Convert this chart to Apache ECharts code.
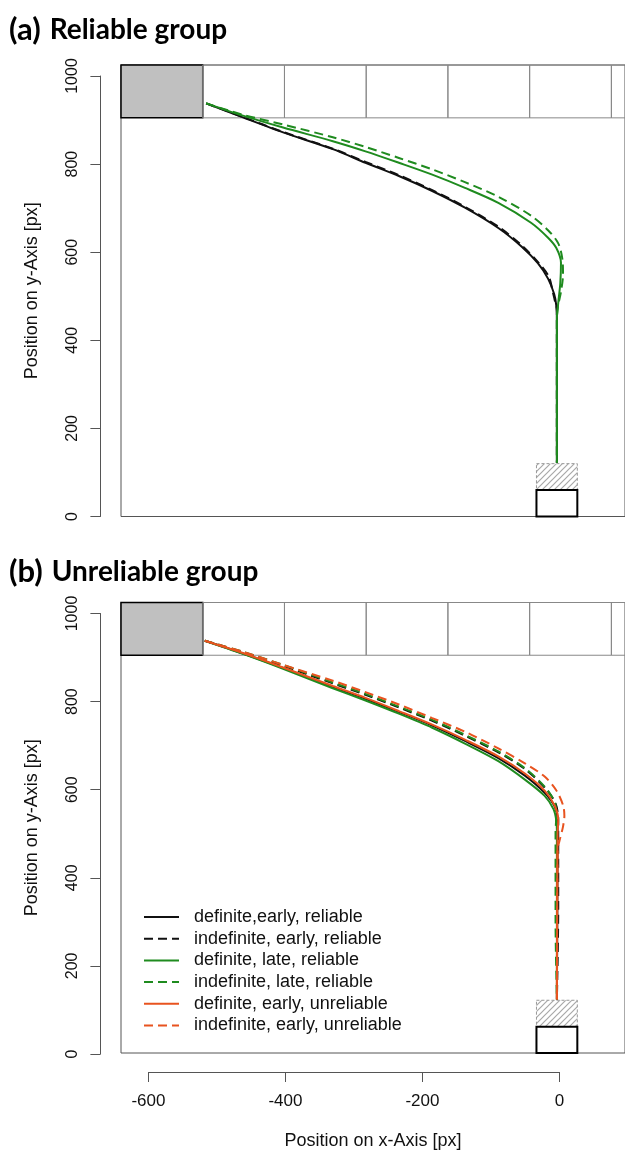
<!DOCTYPE html>
<html style="height: 100%;">
<head>
<meta charset="utf-8">
<title>Trajectories</title>
<script type="text/javascript" src="https://cdn.jsdelivr.net/npm/echarts@6/dist/echarts.min.js"></script>
</head>
<body style="height: 100%; margin: 0; background: #fff">
<div id="container" style="width: 625px; height: 1151px"></div>
<script type="text/javascript">
// legend labels (order = drawing order)
var legendNames = [
  'definite,early, reliable',
  'indefinite, early, reliable',
  'definite, late, reliable',
  'indefinite, late, reliable',
  'definite, early, unreliable',
  'indefinite, early, unreliable'
];

// (a) reliable group, [x, y] in px
var aBlackSolid = [[-515,938],[-461,906],[-402,872],[-329,834],[-281,803],[-232,773],[-183,739],[-135,701],[-86,655],[-52,613],[-28,575],[-13,540],[-4,505],[-1,480],[0,450],[0,122]];
var aBlackDashed = [[-515,938],[-461,907],[-402,873],[-329,835],[-281,805],[-232,775],[-183,741],[-135,703],[-86,658],[-52,616],[-28,578],[-12,545],[-6,510],[-3,490],[0,470],[0,122]];
var aGreenSolid = [[-515,938],[-461,910],[-402,883],[-329,852],[-281,829],[-232,803],[-183,776],[-135,746],[-86,712],[-38,667],[-13,633],[-1,610],[6,576],[5,530],[2,485],[0,450],[0,122]];
var aGreenDashed = [[-515,938],[-461,912],[-402,890],[-329,861],[-281,839],[-232,814],[-183,788],[-135,759],[-86,726],[-38,683],[-13,650],[2,620],[8,585],[9,550],[6,510],[2,480],[0,450],[0,122]];

// (b) unreliable group
var bBlackSolid = [[-517,938],[-461,909],[-402,876],[-329,833],[-281,806],[-232,776],[-183,745],[-135,710],[-86,671],[-47,631],[-18,592],[-3,560],[1,530],[1,500],[0,122]];
var bBlackDashed = [[-517,938],[-461,912],[-402,881],[-329,841],[-281,815],[-232,786],[-183,756],[-135,722],[-86,684],[-47,646],[-18,604],[-2,568],[2,530],[2,470],[2,330],[0,122]];
var bGreenSolid = [[-517,938],[-461,908],[-402,874],[-329,830],[-281,802],[-232,772],[-183,740],[-135,704],[-86,664],[-47,622],[-18,585],[-5,555],[-1,530],[0,500],[0,122]];
var bGreenDashed = [[-517,938],[-461,913],[-402,883],[-329,843],[-281,817],[-232,788],[-183,758],[-135,724],[-86,686],[-47,648],[-18,606],[-3,570],[-1,540],[-2,500],[-2,300],[0,122]];
var bOrangeSolid = [[-517,938],[-461,910],[-402,877],[-329,835],[-281,808],[-232,778],[-183,747],[-135,713],[-86,675],[-47,636],[-18,597],[-3,562],[2,530],[1,500],[0,122]];
var bOrangeDashed = [[-517,938],[-461,913],[-402,883],[-329,847],[-281,821],[-232,793],[-183,762],[-135,731],[-86,693],[-47,659],[-18,629],[-1,598],[9,564],[11,540],[9,515],[5,490],[1,460],[0,122]];

// layout of the screen: box row on top, start (hatched) and goal box at bottom
var cellEdges = [-640, -520, -400, -280, -160, -40, 80, 200];
var cellRow = [905, 1025];
var hatchBox = [-30, 30, 60, 120];
var goalBox = [-30, 30, 0, 60];

var yTicks = [0, 200, 400, 600, 800, 1000];
var xTicks = [-600, -400, -200, 0];

var BLACK = '#111', GREEN = '#1f8b1f', ORANGE = '#e8531f';
var DASH = [9, 5];

var dom = document.getElementById('container');
var myChart = echarts.init(dom);

// hatch pattern
var hatch = document.createElement('canvas');
hatch.width = 6; hatch.height = 6;
var hc = hatch.getContext('2d');
hc.strokeStyle = '#a8a8a8';
hc.lineWidth = 1.2;
hc.beginPath();
hc.moveTo(0, 6); hc.lineTo(6, 0);
hc.moveTo(-1, 1); hc.lineTo(1, -1);
hc.moveTo(5, 7); hc.lineTo(7, 5);
hc.stroke();

var boxData = [];
for (var i = 0; i < cellEdges.length - 1; i++) {
  boxData.push([cellEdges[i], cellEdges[i + 1], cellRow[0], cellRow[1], i == 0 ? 1 : 0]);
}
boxData.push(hatchBox.concat([2]));
boxData.push(goalBox.concat([3]));

function renderBox(params, api) {
  var kind = api.value(4);
  var p0 = api.coord([api.value(0), api.value(3)]);
  var p1 = api.coord([api.value(1), api.value(2)]);
  var style;
  if (kind == 1) style = {fill: '#c0c0c0', stroke: '#000', lineWidth: 1.5};
  else if (kind == 2) style = {fill: {image: hatch, repeat: 'repeat'}, stroke: '#999', lineWidth: 1, lineDash: [3, 2]};
  else if (kind == 3) style = {fill: '#fff', stroke: '#000', lineWidth: 2};
  else style = {fill: 'none', stroke: '#888', lineWidth: 1};
  return {
    type: 'rect',
    shape: {x: p0[0], y: p0[1], width: p1[0] - p0[0], height: p1[1] - p0[1]},
    style: style
  };
}

function curve(name, data, color, dashed, panel) {
  return {
    type: 'line', name: name, data: data,
    xAxisIndex: panel, yAxisIndex: panel,
    symbol: 'none', smooth: 0.3, z: 5,
    lineStyle: {color: color, width: 2, type: dashed ? DASH : 'solid'},
    itemStyle: {color: color}
  };
}

var font = 'Liberation Sans';
var hidden = {axisLine: {show: false}, axisTick: {show: false}, axisLabel: {show: false}, splitLine: {show: false}};
var plain = function (v) { return String(v); };

function dataX(g, withName) {
  var o = Object.assign({gridIndex: g, type: 'value', min: -640, max: 100}, hidden);
  if (withName) {
    o.name = 'Position on x-Axis [px]';
    o.nameLocation = 'middle';
    o.nameGap = 79;
    o.nameTextStyle = {fontSize: 18, color: '#111', fontFamily: font};
  } else {
    o.show = false;
  }
  return o;
}
function dataY(g) {
  return Object.assign({
    gridIndex: g, type: 'value', min: 0, max: 1025,
    name: 'Position on y-Axis [px]', nameLocation: 'middle', nameRotate: 90, nameGap: 80,
    nameTextStyle: {fontSize: 18, color: '#111', fontFamily: font}
  }, hidden);
}
function tickX(g, show) {
  return {
    gridIndex: g, type: 'value', min: xTicks[0], max: xTicks[xTicks.length - 1], interval: 200,
    show: show, offset: 18, position: 'bottom',
    axisLine: {onZero: false, lineStyle: {color: '#555', width: 1}},
    axisTick: {length: 10, lineStyle: {color: '#555'}},
    axisLabel: {fontSize: 17, color: '#111', margin: 21, fontFamily: font, formatter: plain},
    splitLine: {show: false}
  };
}
function tickY(g) {
  return {
    gridIndex: g, type: 'value', min: yTicks[0], max: yTicks[yTicks.length - 1], interval: 200,
    offset: 48, position: 'left',
    axisLine: {show: true, onZero: false, lineStyle: {color: '#555', width: 1}},
    axisTick: {length: 10, lineStyle: {color: '#555'}},
    axisLabel: {fontSize: 16, color: '#111', margin: 20, rotate: 90, fontFamily: font, formatter: plain},
    splitLine: {show: false}
  };
}

var titleRich = {
  p: {fontSize: 31, fontWeight: 'bold', fontFamily: 'Lato', color: '#000', padding: [0, 4, 0, 0]},
  t: {fontSize: 28, fontWeight: 'bold', fontFamily: 'Lato', color: '#000'}
};

var option = {
  animation: false,
  backgroundColor: '#fff',
  title: [
    {left: 4, top: 9, text: '{p|(a)} {t|Reliable group}', textStyle: {rich: titleRich}},
    {left: 4, top: 551, text: '{p|(b)} {t|Unreliable group}', textStyle: {rich: titleRich}}
  ],
  legend: {
    data: legendNames, orient: 'vertical', left: 138, top: 903,
    itemWidth: 35, itemHeight: 18, itemGap: 3.7,
    itemStyle: {opacity: 0, borderWidth: 0},
    textStyle: {fontSize: 18, color: '#111', fontFamily: font, padding: [0, 0, 0, 10]}
  },
  grid: [
    {left: 121, top: 65, width: 507, height: 451.5, show: true, borderColor: '#555', borderWidth: 1},
    {left: 121, top: 602.5, width: 507, height: 451.5, show: true, borderColor: '#555', borderWidth: 1},
    {left: 148.4, top: 76, width: 411, height: 440.5},
    {left: 148.4, top: 613.5, width: 411, height: 440.5}
  ],
  xAxis: [dataX(0, false), dataX(1, true), tickX(2, false), tickX(3, true)],
  yAxis: [dataY(0), dataY(1), tickY(2), tickY(3)],
  series: [
    {type: 'custom', xAxisIndex: 0, yAxisIndex: 0, data: boxData, renderItem: renderBox, z: 2, silent: true},
    {type: 'custom', xAxisIndex: 1, yAxisIndex: 1, data: boxData, renderItem: renderBox, z: 2, silent: true},
    curve(legendNames[0], aBlackSolid, BLACK, false, 0),
    curve(legendNames[1], aBlackDashed, BLACK, true, 0),
    curve(legendNames[2], aGreenSolid, GREEN, false, 0),
    curve(legendNames[3], aGreenDashed, GREEN, true, 0),
    curve(legendNames[0], bBlackSolid, BLACK, false, 1),
    curve(legendNames[1], bBlackDashed, BLACK, true, 1),
    curve(legendNames[2], bGreenSolid, GREEN, false, 1),
    curve(legendNames[3], bGreenDashed, GREEN, true, 1),
    curve(legendNames[4], bOrangeSolid, ORANGE, false, 1),
    curve(legendNames[5], bOrangeDashed, ORANGE, true, 1)
  ]
};
myChart.setOption(option);
</script>
</body>
</html>
